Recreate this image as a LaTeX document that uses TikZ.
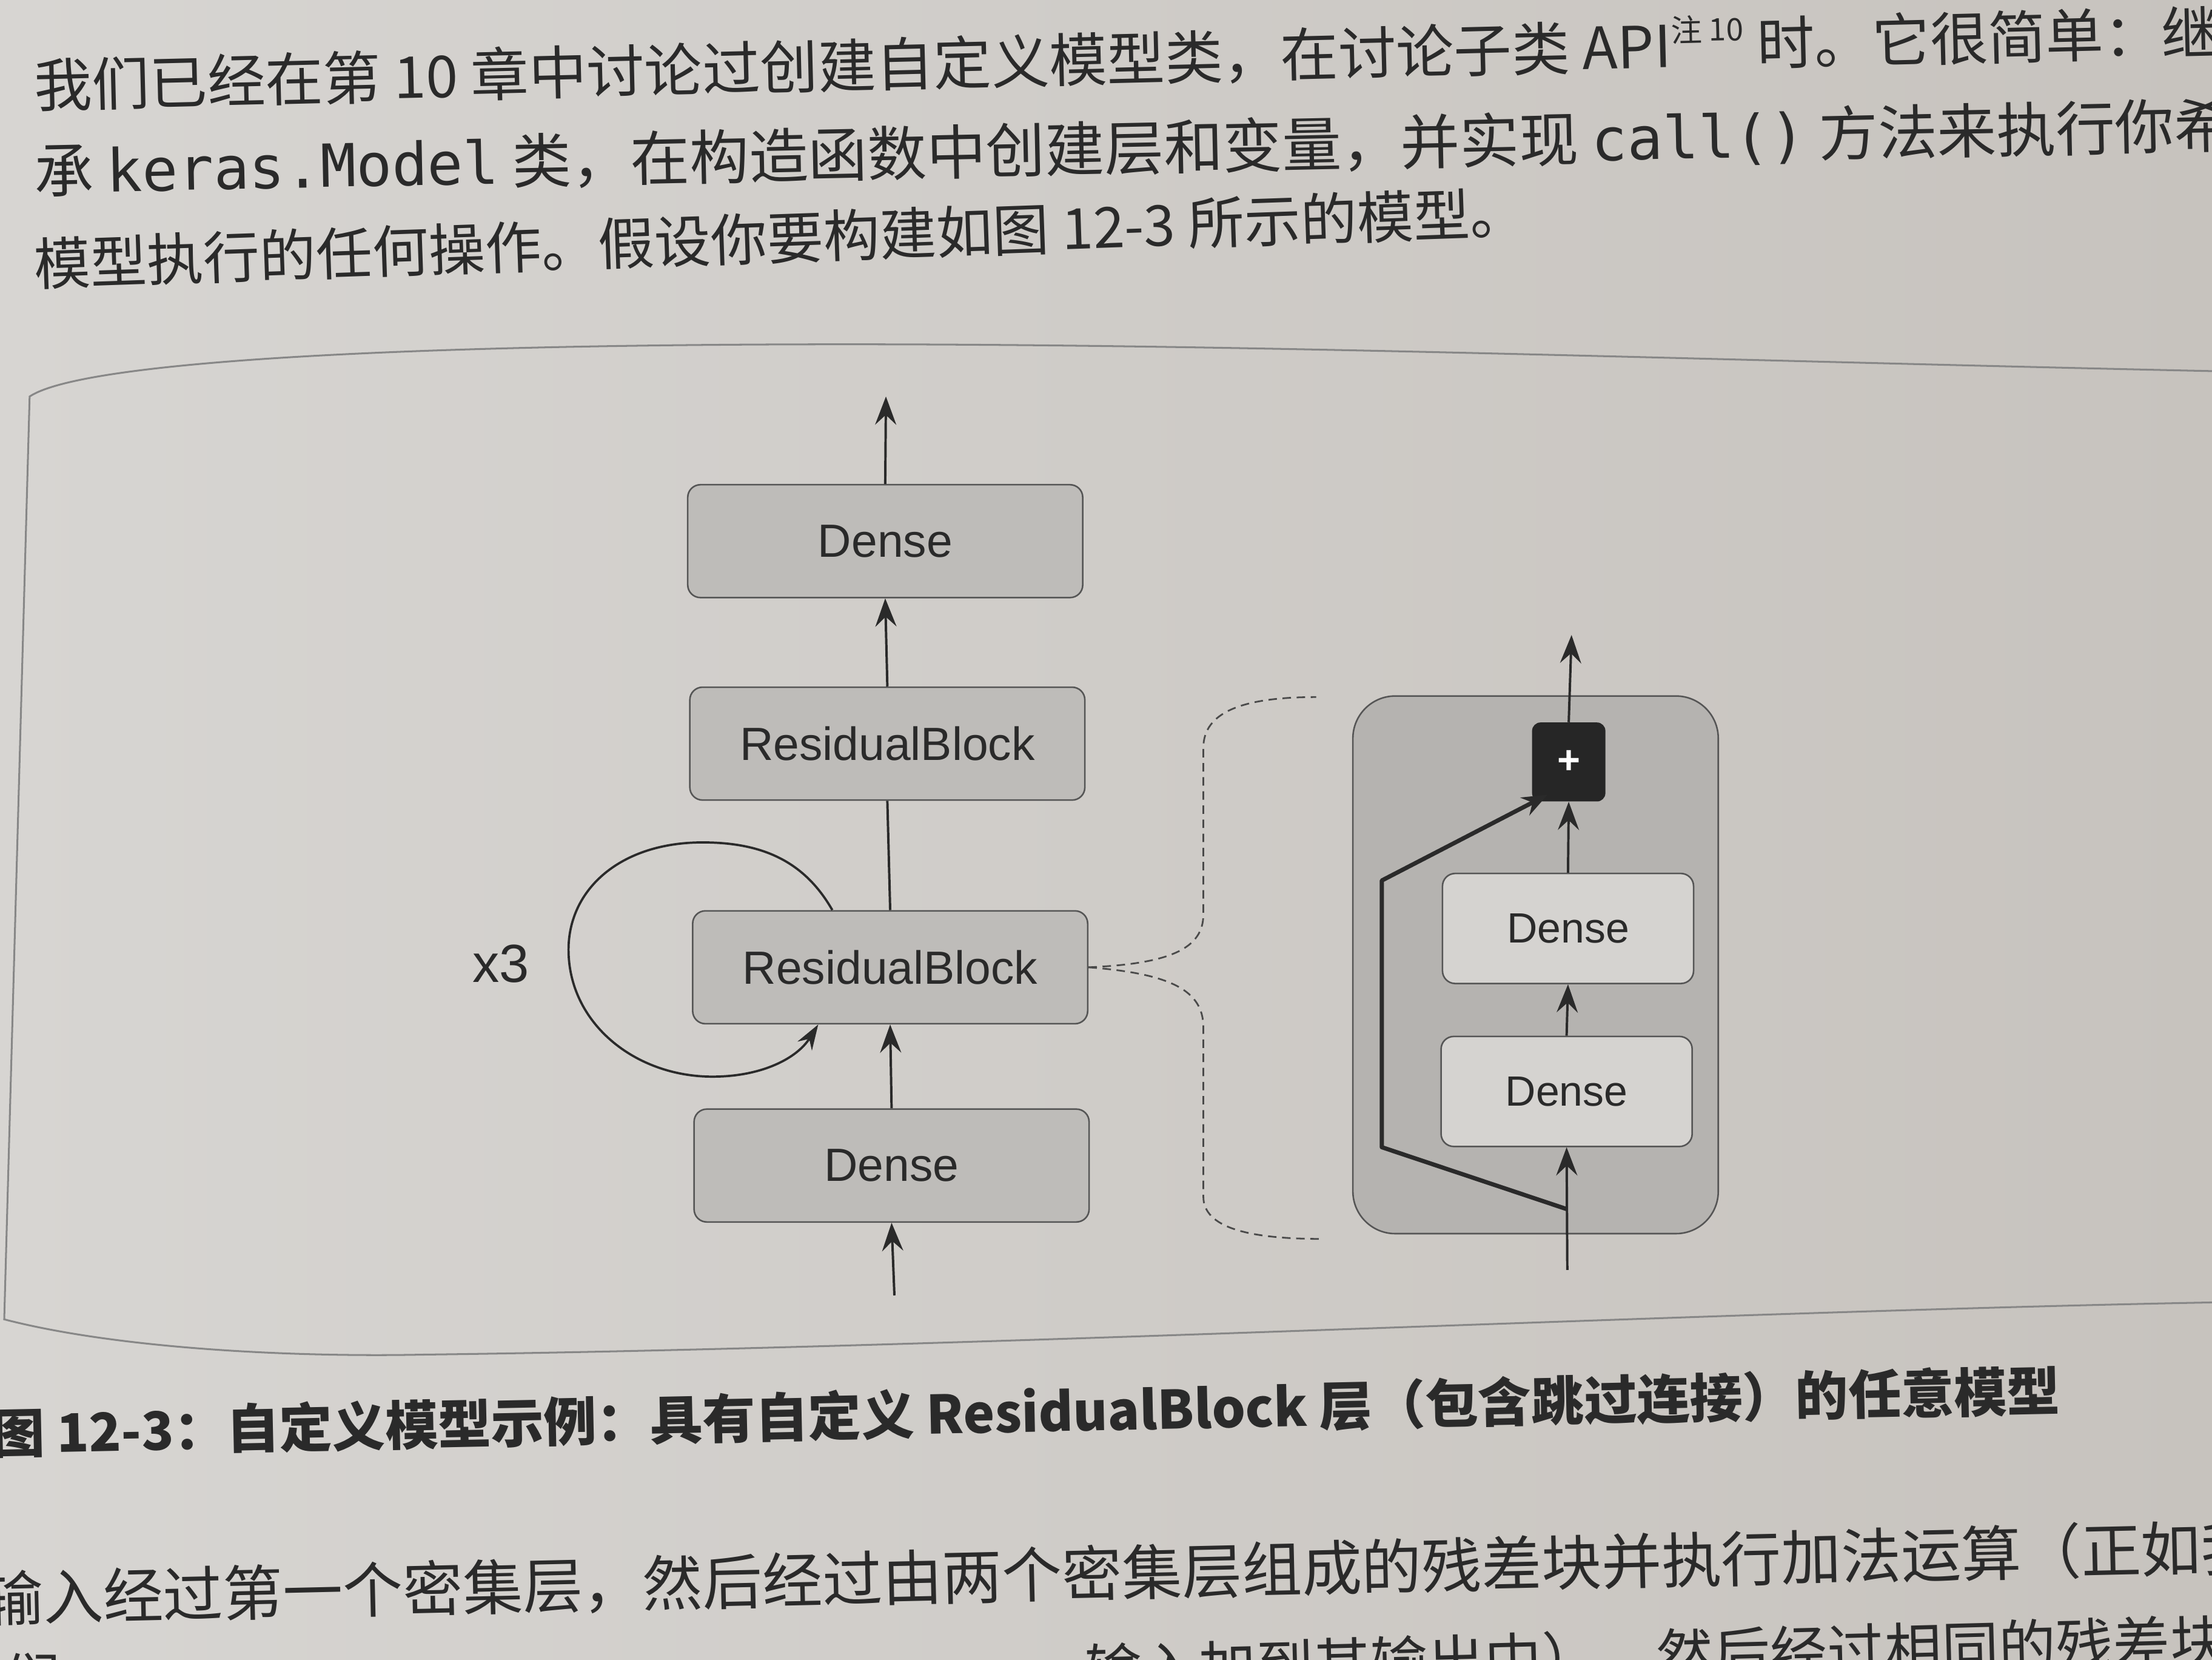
\documentclass[tikz,border=0pt]{standalone}
\usepackage{fontspec}
\setmainfont{Liberation Sans}
\newfontfamily\cjk{Noto Sans CJK SC}
\newfontfamily\codefont{DejaVu Sans Mono}
\usetikzlibrary{arrows.meta}

\definecolor{paperL}{RGB}{215,213,210}
\definecolor{paperR}{RGB}{199,195,190}
\definecolor{boxgray}{RGB}{190,188,185}
\definecolor{blockgray}{RGB}{181,179,176}
\definecolor{innergray}{RGB}{213,211,208}
\definecolor{inkgray}{RGB}{42,42,42}
\definecolor{framegray}{RGB}{135,135,135}

\begin{document}
\begin{tikzpicture}[x=1pt,y=1pt,yscale=-1,xscale=1,
  layerbox/.style={draw=inkgray!80, line width=1.1pt, rounded corners=9pt, fill=boxgray, minimum width=280pt, minimum height=80pt, inner sep=0pt, text=inkgray, font=\fontsize{33}{36}\selectfont},
  inlayerbox/.style={layerbox, fill=innergray, minimum width=178pt, minimum height=78pt, font=\fontsize{30}{33}\selectfont},
  plusbox/.style={fill=black!85, rounded corners=6pt, minimum width=52pt, minimum height=56pt, inner sep=0pt, text=white, font=\bfseries\fontsize{28}{28}\selectfont},
  arrowline/.style={-{Stealth[length=20pt,width=15pt,inset=7pt]}, line width=1.7pt, draw=inkgray},
  skipline/.style={-{Stealth[length=18pt,width=14pt,inset=6pt]}, line width=3pt, draw=inkgray, line join=round},
  dashbrace/.style={draw=inkgray!85, line width=1.2pt, dash pattern=on 6pt off 4pt},
  bodytext/.style={anchor=west, inner sep=0pt, text=inkgray},
]
%uncomment if require: \path (0,1176); %set diagram left start at 0, and has height of 1176
\useasboundingbox (0,0) rectangle (1568,1176);
\clip (0,0) rectangle (1568,1176);
\shade[left color=paperL, right color=paperR] (0,0) rectangle (1568,1176);

%Shape: Frame
\draw[framegray, line width=1.3pt] (1568,263) .. controls (1200,255) and (900,244) .. (600,244) .. controls (300,244) and (60,255) .. (21,281) -- (3,935) .. controls (80,955) and (200,962) .. (300,960) .. controls (700,955) and (1200,930) .. (1568,923) ;

% Text Node
\node[bodytext, rotate=1.4, font=\cjk\fontsize{41}{41}\selectfont] (para1) at (24,60) {我们已经在第 10 章中讨论过创建自定义模型类，在讨论子类 API\raisebox{0.8ex}{\fontsize{22}{22}\selectfont 注 10} 时。它很简单：继};
% Text Node
\node[bodytext, rotate=1.2, font=\cjk\fontsize{42}{42}\selectfont] (para2) at (24,122) {承 {\codefont keras.Model} 类，在构造函数中创建层和变量，并实现 {\codefont call()} 方法来执行你希望};
% Text Node
\node[bodytext, rotate=2.0, font=\cjk\fontsize{40}{40}\selectfont] (para3) at (24,187) {模型执行的任何操作。假设你要构建如图 12-3 所示的模型。};

%Shape: Rounded Rect
\node[layerbox] (dtop) at (627.5,383.5) {Dense};
%Shape: Rounded Rect
\node[layerbox] (rbtop) at (629,527) {ResidualBlock};
%Shape: Rounded Rect
\node[layerbox] (rbmid) at (631,685.5) {ResidualBlock};
%Shape: Rounded Rect
\node[layerbox] (dbot) at (632,826) {Dense};
\coordinate (mainout) at (628,281);
\coordinate (mainin) at (634,918);

%Straight Lines
\draw[arrowline] (dtop.north) -- (mainout);
\draw[arrowline] (rbtop.north) -- (dtop.south);
\draw[line width=1.7pt, draw=inkgray] (rbmid.north) -- (rbtop.south);
\draw[arrowline] (dbot.north) -- (rbmid.south);
\draw[arrowline] (mainin) -- (dbot.south);

%Curve Lines
\draw[line width=1.6pt, draw=inkgray, -{Stealth[length=18pt,width=12pt,inset=6pt]}] ([xshift=-41pt]rbmid.north) .. controls (570,610) and (540,597) .. (498,597) .. controls (440,597) and (403,630) .. (403,673) .. controls (403,725) and (450,763) .. (505,763) .. controls (540,763) and (565,750) .. ([xshift=-51pt]rbmid.south) ;
% Text Node
\node[font=\fontsize{38}{38}\selectfont, text=inkgray, inner sep=0pt] (reps) at (355,683) {x3};

%Shape: Rounded Rect
\node[draw=inkgray!80, line width=1.1pt, rounded corners=30pt, fill=blockgray, minimum width=259pt, minimum height=381pt] (resblk) at (1088.5,683.75) {};
%Shape: Rounded Rect
\node[inlayerbox] (dlow) at (1110.5,773.5) {Dense};
%Shape: Rounded Rect
\node[inlayerbox] (dup) at (1111.5,658) {Dense};
%Shape: Square
\node[plusbox] (addop) at (1112,540) {+};
\coordinate (blkin) at (1111,900);
\coordinate (blkout) at (1114,450);
\coordinate (skipfrom) at (1111,857);

%Straight Lines
\draw[arrowline] (blkin) -- (dlow.south);
\draw[arrowline] (dlow.north) -- (dup.south);
\draw[arrowline] (dup.north) -- (addop.south);
\draw[arrowline] (addop.north) -- (blkout);
\draw[skipline] (skipfrom) -- (979.5,813) -- (979.5,624) -- ([xshift=-15pt,yshift=-5pt]addop.south);

%Curve Lines
\coordinate (bracetop) at (933,494);
\coordinate (bracebot) at (937,878);
\draw[dashbrace] (rbmid.east) .. controls (830,683) and (853,672) .. (853,648) -- (853,530) .. controls (853,505) and (880,494) .. (bracetop) ;
\draw[dashbrace] (rbmid.east) .. controls (830,690) and (853,702) .. (853,728) -- (853,848) .. controls (853,870) and (885,878) .. (bracebot) ;

% Text Node
\node[bodytext, rotate=1.2, font=\cjk\bfseries\fontsize{37.5}{37.5}\selectfont] (caption) at (-6,1016) {图 12-3：自定义模型示例：具有自定义 ResidualBlock 层（包含跳过连接）的任意模型};
% Text Node
\node[bodytext, rotate=1.3, font=\cjk\fontsize{42.5}{42.5}\selectfont] (paraA) at (-12,1133) {输入经过第一个密集层，然后经过由两个密集层组成的残差块并执行加法运算（正如我};
% Text Node
\node[bodytext, font=\cjk\fontsize{40.5}{40.5}\selectfont] (paraC) at (2,1190) {们};
% Text Node
\node[bodytext, rotate=1.5, font=\cjk\fontsize{40.5}{40.5}\selectfont] (paraB) at (769,1184) {输入加到其输出中），然后经过相同的残差块};

\end{tikzpicture}
\end{document}
